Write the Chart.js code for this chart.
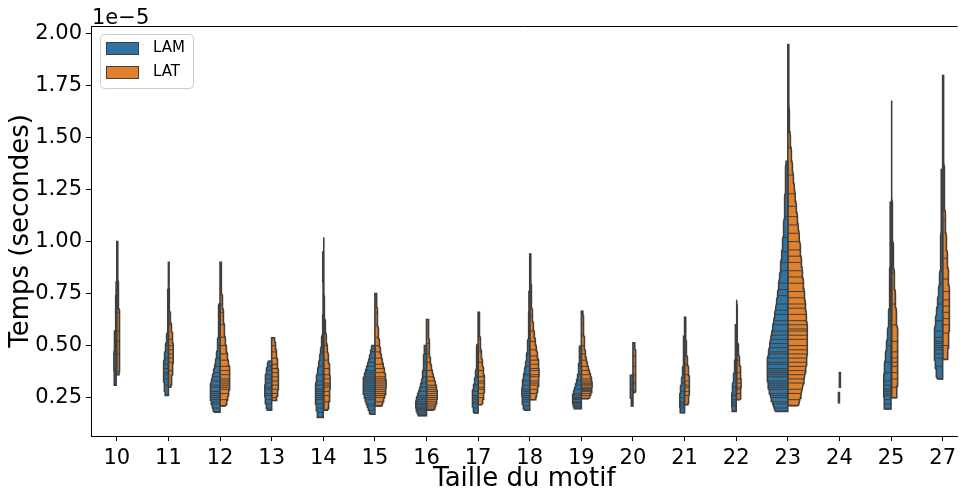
<!DOCTYPE html>
<html>
<head>
<meta charset="utf-8">
<script src="https://cdn.jsdelivr.net/npm/chart.js@4.4.0/dist/chart.umd.min.js"></script>
<style>
  html, body { margin: 0; padding: 0; background: #fff; }
</style>
</head>
<body>
<canvas id="violinChart" width="961" height="491"></canvas>
<script>
// temps mesurés (en 1e-5 s), une liste par taille de motif
const tailles = ['10', '11', '12', '13', '14', '15', '16', '17', '18', '19', '20', '21', '22', '23', '24', '25', '27'];

const tempsLAM = [
  [0.31, 0.38, 0.43, 0.46, 0.52, 0.81],
  [0.26, 0.31, 0.34, 0.36, 0.37, 0.39, 0.41, 0.44, 0.50, 0.77],
  [0.18, 0.20, 0.22, 0.23, 0.24, 0.25, 0.26, 0.27, 0.28, 0.28, 0.30, 0.31, 0.33, 0.35, 0.37, 0.40, 0.44, 0.50, 0.58, 0.70],
  [0.19, 0.20, 0.22, 0.24, 0.26, 0.27, 0.29, 0.30, 0.32, 0.34, 0.36, 0.38, 0.40, 0.425],
  [0.155, 0.18, 0.20, 0.22, 0.24, 0.25, 0.26, 0.27, 0.28, 0.29, 0.31, 0.33, 0.36, 0.40, 0.47, 0.95],
  [0.17, 0.19, 0.21, 0.22, 0.24, 0.25, 0.26, 0.27, 0.28, 0.29, 0.30, 0.31, 0.32, 0.33, 0.34, 0.35, 0.36, 0.37, 0.38, 0.40, 0.42, 0.44, 0.47, 0.50],
  [0.163, 0.17, 0.18, 0.19, 0.19, 0.20, 0.20, 0.21, 0.22, 0.22, 0.23, 0.24, 0.25, 0.26, 0.28, 0.30, 0.32, 0.35, 0.38, 0.42, 0.46, 0.50],
  [0.176, 0.20, 0.22, 0.23, 0.24, 0.25, 0.26, 0.28, 0.31, 0.35, 0.42, 0.505],
  [0.19, 0.21, 0.23, 0.24, 0.25, 0.26, 0.27, 0.28, 0.29, 0.31, 0.33, 0.36, 0.40, 0.46, 0.55, 0.76],
  [0.197, 0.205, 0.21, 0.22, 0.225, 0.23, 0.24, 0.245, 0.25, 0.26, 0.27, 0.29, 0.31, 0.33, 0.36, 0.40, 0.45, 0.497],
  [0.21, 0.26, 0.29, 0.31, 0.33, 0.357],
  [0.177, 0.20, 0.21, 0.22, 0.23, 0.25, 0.28, 0.32, 0.40, 0.545],
  [0.184, 0.21, 0.22, 0.23, 0.24, 0.26, 0.30, 0.40, 0.60],
  [0.184, 0.20, 0.22, 0.23, 0.25, 0.26, 0.27, 0.29, 0.30, 0.31, 0.32, 0.33, 0.35, 0.36, 0.37,
   0.38, 0.39, 0.41, 0.42, 0.44, 0.46, 0.47, 0.49, 0.51, 0.53, 0.55, 0.57, 0.60, 0.62, 0.65,
   0.67, 0.70, 0.74, 0.77, 0.80, 0.86, 0.90, 0.95, 1.02, 1.12, 1.24, 1.386],
  [0.226, 0.274],
  [0.195, 0.22, 0.24, 0.26, 0.27, 0.28, 0.29, 0.31, 0.33, 0.37, 0.42, 0.50, 0.62, 0.85, 1.189],
  [0.34, 0.40, 0.44, 0.46, 0.48, 0.49, 0.50, 0.51, 0.52, 0.54, 0.57, 0.62, 0.70, 0.80, 0.95, 1.15, 1.346]
];

const tempsLAT = [
  [0.36, 0.46, 0.52, 0.57, 0.66, 1.00],
  [0.30, 0.38, 0.42, 0.44, 0.46, 0.48, 0.50, 0.53, 0.60, 0.90],
  [0.21, 0.24, 0.27, 0.29, 0.30, 0.31, 0.32, 0.33, 0.34, 0.36, 0.38, 0.40, 0.43, 0.46, 0.50, 0.54, 0.60, 0.66, 0.70, 0.90],
  [0.236, 0.25, 0.27, 0.29, 0.31, 0.33, 0.35, 0.37, 0.39, 0.41, 0.44, 0.47, 0.50, 0.537],
  [0.19, 0.23, 0.26, 0.28, 0.30, 0.31, 0.32, 0.34, 0.36, 0.39, 0.43, 0.50, 0.64, 1.02],
  [0.21, 0.23, 0.25, 0.26, 0.27, 0.28, 0.29, 0.30, 0.31, 0.32, 0.33, 0.34, 0.35, 0.37, 0.39, 0.41, 0.44, 0.47, 0.50, 0.54, 0.60, 0.66, 0.75],
  [0.19, 0.20, 0.21, 0.22, 0.23, 0.24, 0.25, 0.25, 0.26, 0.27, 0.28, 0.29, 0.30, 0.31, 0.33, 0.35, 0.38, 0.42, 0.46, 0.51, 0.57, 0.625],
  [0.216, 0.25, 0.27, 0.29, 0.30, 0.32, 0.33, 0.35, 0.38, 0.42, 0.47, 0.53, 0.66],
  [0.24, 0.27, 0.29, 0.31, 0.32, 0.33, 0.35, 0.36, 0.38, 0.39, 0.41, 0.43, 0.45, 0.48, 0.52, 0.57, 0.64, 0.75, 0.94],
  [0.245, 0.26, 0.27, 0.28, 0.285, 0.29, 0.295, 0.30, 0.31, 0.315, 0.32, 0.33, 0.34, 0.36, 0.38, 0.40, 0.43, 0.46, 0.50, 0.55, 0.60, 0.665],
  [0.275, 0.32, 0.36, 0.40, 0.45, 0.513],
  [0.216, 0.26, 0.28, 0.30, 0.31, 0.33, 0.36, 0.41, 0.50, 0.636],
  [0.24, 0.27, 0.29, 0.30, 0.32, 0.34, 0.37, 0.43, 0.52, 0.718],
  [0.2115, 0.24, 0.27, 0.29, 0.32, 0.34, 0.36, 0.38, 0.40, 0.42, 0.44, 0.46, 0.48, 0.50,
   0.53, 0.55, 0.57, 0.58, 0.60, 0.62, 0.65, 0.68, 0.70, 0.73, 0.76, 0.80, 0.83, 0.86,
   0.90, 0.93, 0.96, 1.00, 1.04, 1.08, 1.12, 1.17, 1.23, 1.32, 1.45, 1.947],
  [0.30, 0.37],
  [0.249, 0.30, 0.34, 0.37, 0.40, 0.42, 0.44, 0.47, 0.52, 0.60, 0.70, 0.85, 1.05, 1.678],
  [0.433, 0.50, 0.56, 0.60, 0.63, 0.66, 0.69, 0.72, 0.76, 0.82, 0.92, 1.10, 1.35, 1.798]
];

const yTicks = [0.25, 0.50, 0.75, 1.00, 1.25, 1.50, 1.75, 2.00];
const series = ['LAM', 'LAT'];
const colors = ['#3274a1', '#e1812c'];
const gray = '#3f3f3f';

// --- violins (kde gaussien, largeur proportionnelle à l'effectif) ---
const halfWidth = 0.4;
const gridSize = 100;
const maxCount = Math.max(...tempsLAM.concat(tempsLAT).map(a => a.length));

function kde(vals) {
  const n = vals.length;
  const mean = vals.reduce((a, b) => a + b, 0) / n;
  const sd = Math.sqrt(vals.reduce((a, v) => a + (v - mean) ** 2, 0) / (n - 1));
  const bw = sd * Math.pow(n, -1 / 5);
  const lo = Math.min(...vals), hi = Math.max(...vals);
  const support = [], density = [];
  for (let k = 0; k < gridSize; k++) {
    const s = lo + (hi - lo) * k / (gridSize - 1);
    let d = 0;
    for (const v of vals) d += Math.exp(-0.5 * ((s - v) / bw) ** 2);
    support.push(s);
    density.push(d);
  }
  const dmax = Math.max(...density);
  const scale = n / maxCount;
  return { support, density: density.map(d => d / dmax * scale) };
}

const violinSets = [];
const stickSets = [];

[tempsLAM, tempsLAT].forEach((groups, j) => {
  const side = j === 0 ? -1 : 1;
  groups.forEach((vals, i) => {
    const { support, density } = kde(vals);
    const outline = support.map((s, k) => ({ x: i + side * density[k] * halfWidth, y: s }));
    outline.push({ x: i, y: support[gridSize - 1] });
    outline.push({ x: i, y: support[0] });
    outline.push(outline[0]);
    violinSets.push({
      label: series[j] + ' ' + tailles[i],
      data: outline,
      showLine: true,
      fill: 'shape',
      backgroundColor: colors[j],
      borderColor: gray,
      borderWidth: 1.6,
      pointRadius: 0,
      tension: 0,
      order: 2
    });
    const sticks = [];
    for (const v of vals) {
      let best = 0;
      support.forEach((s, k) => { if (Math.abs(s - v) < Math.abs(support[best] - v)) best = k; });
      const w = halfWidth * density[best] * 0.99;
      sticks.push({ x: i + side * w, y: v }, { x: i, y: v }, { x: i, y: null });
    }
    stickSets.push({
      label: series[j] + ' sticks ' + tailles[i],
      data: sticks,
      showLine: true,
      spanGaps: false,
      fill: false,
      borderColor: gray,
      borderWidth: 1,
      pointRadius: 0,
      order: 1
    });
  });
});

// marges de 5 % comme matplotlib
const allVals = tempsLAM.flat().concat(tempsLAT.flat());
const vMin = Math.min(...allVals), vMax = Math.max(...allVals);
const yMin = vMin - 0.05 * (vMax - vMin);
const yMax = vMax + 0.05 * (vMax - vMin);

const decor = {
  id: 'decor',
  afterDraw(chart) {
    const { ctx, chartArea } = chart;
    ctx.save();
    // spine du haut
    ctx.strokeStyle = '#000';
    ctx.lineWidth = 1;
    ctx.beginPath();
    ctx.moveTo(chartArea.left, chartArea.top + 0.5);
    ctx.lineTo(chartArea.right, chartArea.top + 0.5);
    ctx.stroke();
    // facteur d'échelle
    ctx.fillStyle = '#000';
    ctx.font = '21px "DejaVu Sans"';
    ctx.textBaseline = 'alphabetic';
    ctx.textAlign = 'left';
    ctx.fillText('1e\u22125', chartArea.left + 1, 24);
    // légende
    const lx = chartArea.left + 9, ly = chartArea.top + 8, lw = 93, lh = 54;
    ctx.fillStyle = 'rgba(255,255,255,0.8)';
    ctx.strokeStyle = '#cccccc';
    ctx.beginPath();
    ctx.roundRect(lx + 0.5, ly + 0.5, lw, lh, 4);
    ctx.fill();
    ctx.stroke();
    ctx.font = '15px "DejaVu Sans"';
    ctx.textBaseline = 'middle';
    series.forEach((name, j) => {
      const py = ly + 8 + j * 24;
      ctx.fillStyle = colors[j];
      ctx.fillRect(lx + 6, py, 32, 12);
      ctx.strokeStyle = gray;
      ctx.strokeRect(lx + 6.5, py + 0.5, 32, 12);
      ctx.fillStyle = '#000';
      ctx.fillText(name, lx + 53, py + 6.5);
    });
    ctx.restore();
  }
};

const ctx = document.getElementById('violinChart').getContext('2d');
const chart = new Chart(ctx, {
  type: 'scatter',
  data: { datasets: stickSets.concat(violinSets) },
  options: {
    responsive: false,
    animation: false,
    layout: { padding: { top: 26, right: 0, left: 0, bottom: 0 } },
    plugins: { legend: { display: false }, tooltip: { enabled: false } },
    scales: {
      x: {
        type: 'linear',
        min: -0.5,
        max: 16.29,
        afterBuildTicks: scale => { scale.ticks = tailles.map((t, i) => ({ value: i })); },
        afterFit: scale => { scale.height = 55; },
        ticks: {
          autoSkip: false,
          maxRotation: 0,
          padding: 5,
          color: '#000',
          font: { family: 'DejaVu Sans', size: 21 },
          callback: value => tailles[value]
        },
        grid: { drawOnChartArea: false, drawTicks: true, tickLength: 5, tickColor: '#000' },
        border: { display: true, color: '#000', width: 1 },
        title: {
          display: true,
          text: 'Taille du motif',
          color: '#000',
          font: { family: 'DejaVu Sans', size: 26, lineHeight: 0.9 },
          padding: { top: 0, bottom: 0 }
        }
      },
      y: {
        type: 'linear',
        min: yMin,
        max: yMax,
        afterBuildTicks: scale => { scale.ticks = yTicks.map(v => ({ value: v })); },
        afterFit: scale => { scale.width = 91; },
        ticks: {
          padding: 4,
          color: '#000',
          font: { family: 'DejaVu Sans', size: 21 },
          callback: value => value.toFixed(2)
        },
        grid: { drawOnChartArea: false, drawTicks: true, tickLength: 5, tickColor: '#000' },
        border: { display: true, color: '#000', width: 1 },
        title: {
          display: true,
          text: 'Temps (secondes)',
          color: '#000',
          font: { family: 'DejaVu Sans', size: 26 },
          padding: { top: 6, bottom: 0 }
        }
      }
    }
  },
  plugins: [decor]
});
</script>
</body>
</html>
